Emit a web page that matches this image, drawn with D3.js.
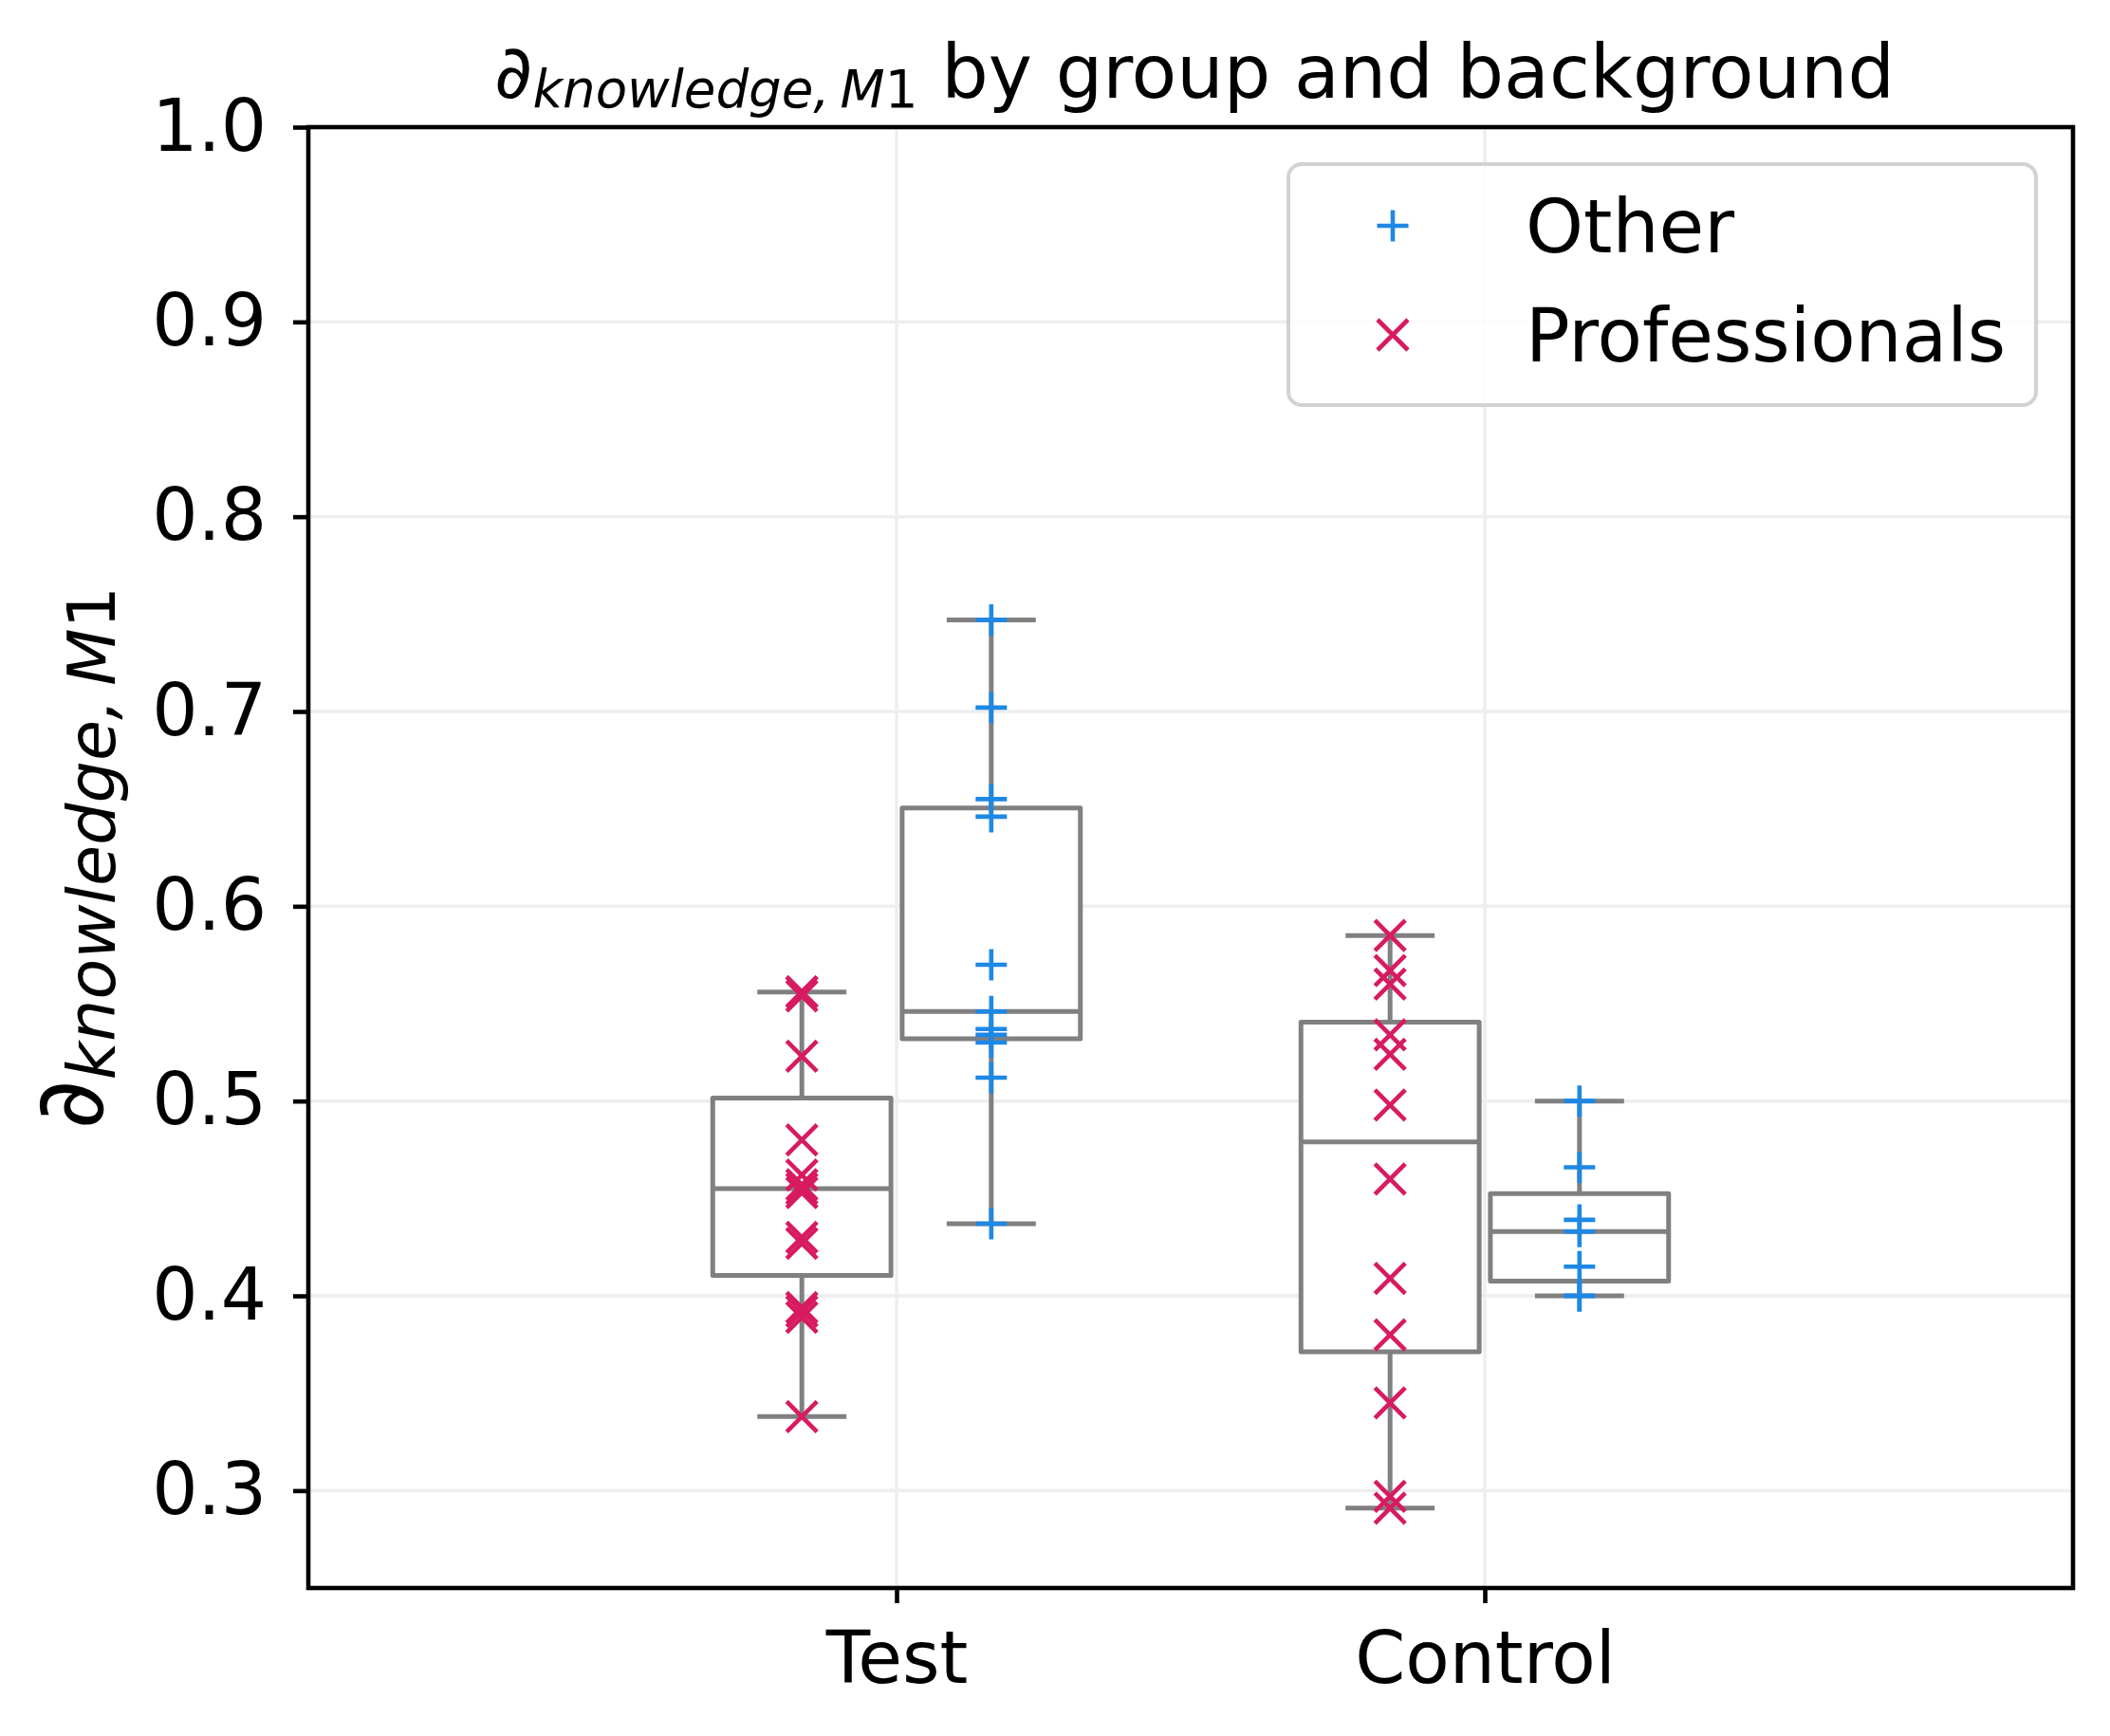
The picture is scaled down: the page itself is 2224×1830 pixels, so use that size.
<!DOCTYPE html>
<html>
<head>
<meta charset="utf-8">
<script src="https://cdn.jsdelivr.net/npm/d3@7"></script>
<style>
  body { margin: 0; background: #fff; }
  text { font-family: "DejaVu Sans", sans-serif; }
</style>
</head>
<body>
<div id="chart"></div>
<script>
// data
var groups = ["Test", "Control"];
var backgrounds = ["Other", "Professionals"];

var testProfessionals = [0.338, 0.389, 0.392, 0.394, 0.427, 0.430, 0.453, 0.455, 0.457, 0.462, 0.480, 0.523, 0.554, 0.556, 0.556];
var testOther = [0.437, 0.512, 0.530, 0.534, 0.537, 0.546, 0.570, 0.646, 0.655, 0.702, 0.747];
var controlProfessionals = [0.291, 0.297, 0.345, 0.380, 0.409, 0.460, 0.498, 0.524, 0.534, 0.560, 0.567, 0.585];
var controlOther = [0.400, 0.400, 0.415, 0.433, 0.439, 0.466, 0.500];

var yTicks = [0.3, 0.4, 0.5, 0.6, 0.7, 0.8, 0.9, 1.0];

var colors = { "Other": "#1E88E5", "Professionals": "#D81B60" };
var boxColor = "#808080";

var series = [
  { group: "Test", bg: "Professionals", values: testProfessionals },
  { group: "Test", bg: "Other", values: testOther },
  { group: "Control", bg: "Professionals", values: controlProfessionals },
  { group: "Control", bg: "Other", values: controlOther }
];

var svgWidth = 2224;
var svgHeight = 1830;
var margin = { top: 134, right: 39, bottom: 156, left: 325 };
var width = svgWidth - margin.left - margin.right;
var height = svgHeight - margin.top - margin.bottom;

var fontSize = 76;

var svg = d3.select("#chart")
  .append("svg")
  .attr("width", svgWidth)
  .attr("height", svgHeight);

var chartGroup = svg.append("g")
  .attr("transform", `translate(${margin.left}, ${margin.top})`);

// scales
var xScale = d3.scaleLinear().domain([0, 3]).range([0, width]);
var yScale = d3.scaleLinear().domain([0.25, 1.0]).range([height, 0]);

var dodge = { "Professionals": -0.161, "Other": 0.161 };
var boxWidth = 0.303;

function xPos(d) {
  return xScale(groups.indexOf(d.group) + 1 + dodge[d.bg]);
}

// grid
chartGroup.append("g")
  .selectAll("line")
  .data(yTicks)
  .enter()
  .append("line")
  .attr("x1", 0)
  .attr("x2", width)
  .attr("y1", d => yScale(d))
  .attr("y2", d => yScale(d))
  .attr("stroke", "#eeeeee")
  .attr("stroke-width", 3.5);

chartGroup.append("g")
  .selectAll("line")
  .data(groups)
  .enter()
  .append("line")
  .attr("x1", (d, i) => xScale(i + 1))
  .attr("x2", (d, i) => xScale(i + 1))
  .attr("y1", 0)
  .attr("y2", height)
  .attr("stroke", "#eeeeee")
  .attr("stroke-width", 3.5);

// box stats
series.forEach(function(s) {
  var v = s.values.slice().sort(d3.ascending);
  s.q1 = d3.quantile(v, 0.25);
  s.med = d3.quantile(v, 0.5);
  s.q3 = d3.quantile(v, 0.75);
  var iqr = s.q3 - s.q1;
  s.lo = d3.min(v.filter(d => d >= s.q1 - 1.5 * iqr));
  s.hi = d3.max(v.filter(d => d <= s.q3 + 1.5 * iqr));
});

var boxW = xScale(boxWidth) - xScale(0);
var lw = 5;

var boxes = chartGroup.append("g")
  .selectAll("g")
  .data(series)
  .enter()
  .append("g");

// whiskers
boxes.append("line")
  .attr("x1", d => xPos(d)).attr("x2", d => xPos(d))
  .attr("y1", d => yScale(d.q3)).attr("y2", d => yScale(d.hi))
  .attr("stroke", boxColor).attr("stroke-width", lw);
boxes.append("line")
  .attr("x1", d => xPos(d)).attr("x2", d => xPos(d))
  .attr("y1", d => yScale(d.q1)).attr("y2", d => yScale(d.lo))
  .attr("stroke", boxColor).attr("stroke-width", lw);

// caps
["hi", "lo"].forEach(function(k) {
  boxes.append("line")
    .attr("x1", d => xPos(d) - boxW / 4).attr("x2", d => xPos(d) + boxW / 4)
    .attr("y1", d => yScale(d[k])).attr("y2", d => yScale(d[k]))
    .attr("stroke", boxColor).attr("stroke-width", lw);
});

// box
boxes.append("rect")
  .attr("x", d => xPos(d) - boxW / 2)
  .attr("width", boxW)
  .attr("y", d => yScale(d.q3))
  .attr("height", d => yScale(d.q1) - yScale(d.q3))
  .attr("fill", "white")
  .attr("stroke", boxColor)
  .attr("stroke-width", lw)
  .attr("stroke-linejoin", "round");

// median
boxes.append("line")
  .attr("x1", d => xPos(d) - boxW / 2).attr("x2", d => xPos(d) + boxW / 2)
  .attr("y1", d => yScale(d.med)).attr("y2", d => yScale(d.med))
  .attr("stroke", boxColor).attr("stroke-width", lw);

// markers
function markerPath(bg) {
  if (bg === "Other") {
    var a = 16.5;
    return `M${-a},0H${a}M0,${-a}V${a}`;
  }
  var b = 16;
  return `M${-b},${-b}L${b},${b}M${-b},${b}L${b},${-b}`;
}

var points = [];
series.forEach(function(s) {
  s.values.forEach(function(v) {
    points.push({ group: s.group, bg: s.bg, value: v });
  });
});

chartGroup.append("g")
  .selectAll("path")
  .data(points)
  .enter()
  .append("path")
  .attr("transform", d => `translate(${xPos(d)}, ${yScale(d.value)})`)
  .attr("d", d => markerPath(d.bg))
  .attr("fill", "none")
  .attr("stroke", d => colors[d.bg])
  .attr("stroke-width", 4.6);

// axes
var leftAxis = d3.axisLeft(yScale)
  .tickValues(yTicks)
  .tickFormat(d3.format(".1f"))
  .tickSize(16)
  .tickPadding(28);

var bottomAxis = d3.axisBottom(xScale)
  .tickValues([1, 2])
  .tickFormat(d => groups[d - 1])
  .tickSize(16)
  .tickPadding(30);

var yAxis = chartGroup.append("g").call(leftAxis);
var xAxis = chartGroup.append("g")
  .attr("transform", `translate(0, ${height})`)
  .call(bottomAxis);

[xAxis, yAxis].forEach(function(ax) {
  ax.select(".domain").remove();
  ax.selectAll(".tick line").attr("stroke", "#000").attr("stroke-width", 4.6);
  ax.selectAll(".tick text")
    .attr("fill", "#000")
    .style("font-size", fontSize + "px")
    .style("font-family", "DejaVu Sans");
});

// frame
chartGroup.append("rect")
  .attr("width", width)
  .attr("height", height)
  .attr("fill", "none")
  .attr("stroke", "#000")
  .attr("stroke-width", 4.6);

// math label: d with subscript "knowledge, M1"
function mathLabel(sel, size, drop) {
  sel.append("tspan").style("font-size", size + "px").text("\u2202");
  sel.append("tspan")
    .attr("dy", drop)
    .style("font-size", (size * 0.7) + "px")
    .style("font-style", "italic")
    .text("knowledge,\u2009M");
  sel.append("tspan")
    .style("font-size", (size * 0.7) + "px")
    .text("1");
}

// title
var titleFont = 78;
var title = svg.append("text")
  .attr("x", margin.left + width / 2 + 4)
  .attr("y", 103)
  .attr("text-anchor", "middle")
  .style("font-size", titleFont + "px");
mathLabel(title, titleFont, 10);
title.append("tspan")
  .attr("dy", -10)
  .style("font-size", titleFont + "px")
  .text(" by group and background");

// y label
var yFont = 100;
var ylab = svg.append("text")
  .attr("transform", `translate(108, ${margin.top + height / 2}) rotate(-90)`)
  .attr("text-anchor", "middle")
  .style("font-size", yFont + "px");
mathLabel(ylab, yFont, 13);

// legend
var legendFont = 77.5;
var legend = svg.append("g").attr("transform", "translate(1358, 173)");
legend.append("rect")
  .attr("width", 788)
  .attr("height", 254)
  .attr("rx", 14)
  .attr("fill", "white")
  .attr("fill-opacity", 0.8)
  .attr("stroke", "#d2d2d2")
  .attr("stroke-width", 4);

var legendItems = legend.selectAll("g.item")
  .data(backgrounds)
  .enter()
  .append("g")
  .attr("class", "item")
  .attr("transform", (d, i) => `translate(0, ${65 + i * 115})`);

legendItems.append("path")
  .attr("transform", "translate(110, 0)")
  .attr("d", d => markerPath(d))
  .attr("fill", "none")
  .attr("stroke", d => colors[d])
  .attr("stroke-width", 4.6);

legendItems.append("text")
  .attr("x", 250)
  .attr("dy", "0.36em")
  .style("font-size", legendFont + "px")
  .text(d => d);
</script>
</body>
</html>
